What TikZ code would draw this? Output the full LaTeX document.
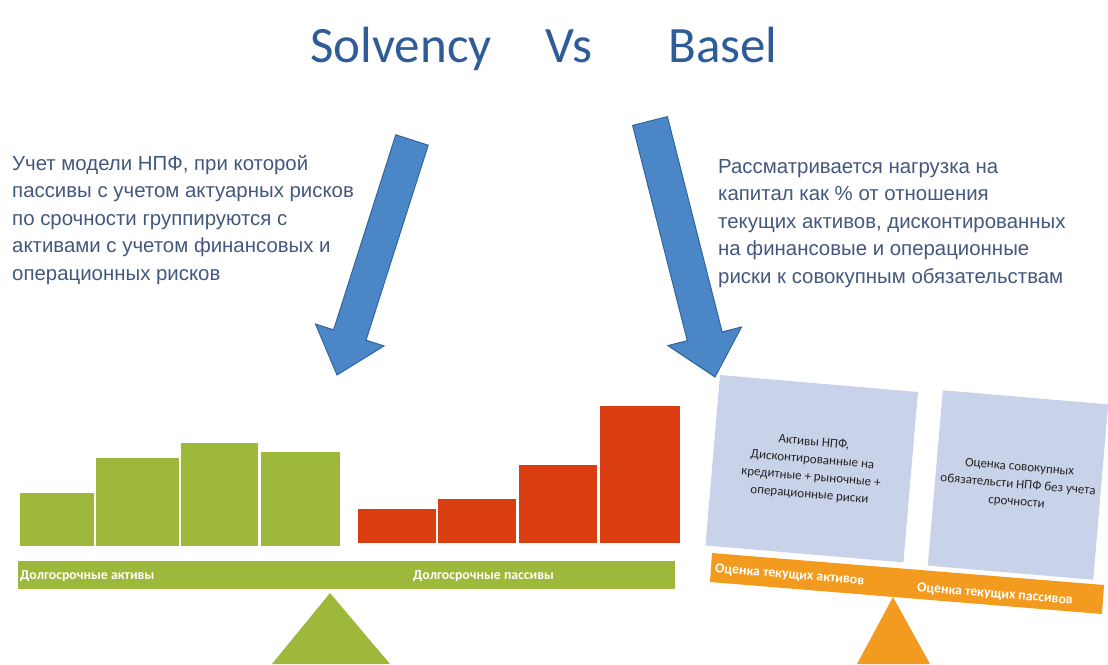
\documentclass[tikz,border=0pt]{standalone}
\usepackage{fontspec}
\setmainfont{Liberation Sans}
\newfontfamily\calibri{Carlito}
\definecolor{titleblue}{HTML}{2E5C98}
\definecolor{txtblue}{HTML}{44587F}
\definecolor{arrowfill}{HTML}{4B87C7}
\definecolor{arrowline}{HTML}{32649E}
\definecolor{barGreen}{HTML}{9EB83B}
\definecolor{barRed}{HTML}{D93D10}
\definecolor{boxBlue}{HTML}{C8D3E9}
\definecolor{beamOrange}{HTML}{F39B1F}
\definecolor{boxText}{HTML}{262626}
\tikzset{
  titletext/.style={font=\calibri\fontsize{51}{51}\selectfont, text=titleblue, inner sep=0pt, anchor=base},
  paratext/.style={font=\fontsize{20.4}{27.5}\selectfont, text=txtblue, inner sep=0pt, align=left, anchor=north west},
  bigarrow/.style={fill=arrowfill, draw=arrowline, line width=1pt, line join=miter},
  greenbar/.style={fill=barGreen},
  redbar/.style={fill=barRed},
  beamtext/.style={font=\calibri\bfseries\fontsize{13.8}{13.8}\selectfont, text=white, inner sep=0pt, anchor=west},
  bluebox/.style={fill=boxBlue, inner sep=4pt, align=center, text=boxText,
     font=\calibri\fontsize{13}{17.5}\selectfont, rotate=-4.9},
}
\begin{document}
\begin{tikzpicture}[x=1pt,y=-1pt]
\useasboundingbox (0,0) rectangle (1108,664);
\fill[white] (0,0) rectangle (1108,664);

% title
\node[titletext] (tS) at (401,62) {Solvency};
\node[titletext] (tV) at (569,62) {Vs};
\node[titletext] (tB) at (723,62) {Basel};

% paragraphs
\node[paratext] (leftpar) at (12,155) {Учет модели НПФ, при которой\\пассивы с учетом актуарных рисков\\по срочности группируются с\\активами с учетом финансовых и\\операционных рисков};
\node[paratext] (rightpar) at (718,159) {Рассматривается нагрузка на\\капитал как \% от отношения\\текущих активов, дисконтированных\\на финансовые и операционные\\риски к совокупным обязательствам};

% green bars
\fill[greenbar] (20,493) rectangle (94,546);
\fill[greenbar] (96,458) rectangle (179,546);
\fill[greenbar] (181,443) rectangle (258,546);
\fill[greenbar] (261,452) rectangle (340,546);
% red bars
\fill[redbar] (358,509) rectangle (436,543);
\fill[redbar] (438,499) rectangle (516,543);
\fill[redbar] (519,465) rectangle (597,543);
\fill[redbar] (600,406) rectangle (680,543);

% green beam and fulcrum
\fill[barGreen] (18,561) rectangle (675,589);
\node[beamtext] (ga) at (20,576) {Долгосрочные активы};
\node[beamtext] (gp) at (413,576) {Долгосрочные пассивы};
\fill[barGreen] (330,593) -- (272,664) -- (390,664) -- cycle;

% blue boxes
\node[bluebox, minimum width=198.7pt, minimum height=171pt] (box1) at (811.7,468.7)
  {Активы НПФ,\\Дисконтированные на\\кредитные + рыночные +\\операционные риски};
\node[bluebox, minimum width=166pt, minimum height=176pt] (box2) at (1018,485)
  {Оценка совокупных\\обязательсти НПФ без учета\\срочности};

% orange beam and fulcrum
\fill[beamOrange] (712,553) -- (1104,585) -- (1102,614) -- (710,582) -- cycle;
\node[beamtext, rotate=-4.7] (oa) at (715,569) {Оценка текущих активов};
\node[beamtext, rotate=-4.7] (op) at (917,588) {Оценка текущих пассивов};
\fill[beamOrange] (893,597) -- (857,664) -- (930,664) -- cycle;

% arrows
\draw[bigarrow] (395.8,134.8) -- (428.2,145.2) -- (366,340.2) -- (384.1,345.9)
  -- (337,375) -- (315.5,324.1) -- (333.6,329.8) -- cycle;
\draw[bigarrow] (632.6,125.4) -- (667.4,116.6) -- (722.1,331.9) -- (741.5,327)
  -- (715,377) -- (667.9,345.6) -- (687.3,340.7) -- cycle;
\end{tikzpicture}
\end{document}
